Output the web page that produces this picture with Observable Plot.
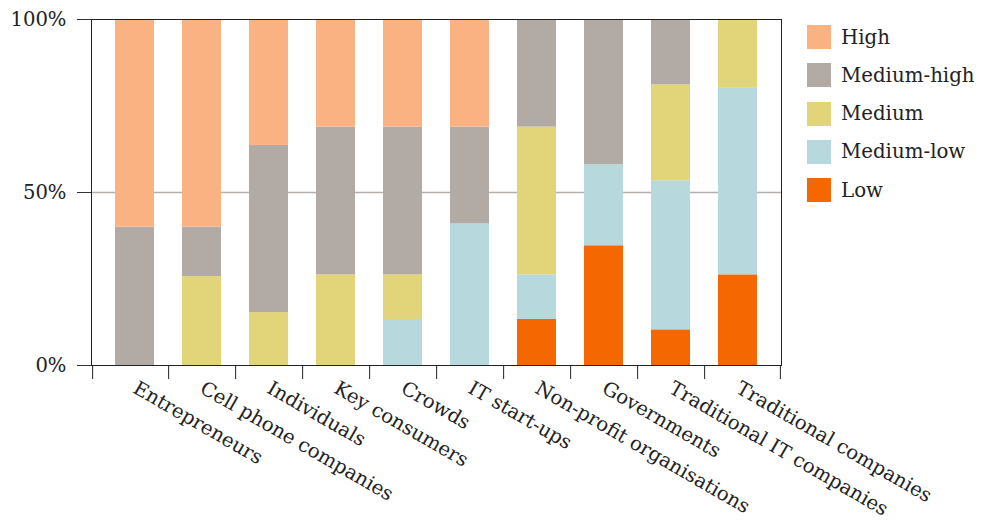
<!DOCTYPE html>
<html>
<head>
<meta charset="utf-8">
<script src="https://cdn.jsdelivr.net/npm/d3@7"></script>
<script src="https://cdn.jsdelivr.net/npm/@observablehq/plot@0.6"></script>
<style>
  html, body { margin: 0; padding: 0; background: #fff; }
  #wrap { position: relative; width: 992px; height: 522px; font-family: "DejaVu Serif", serif; color: #222; }
  #chart { position: absolute; left: 0; top: 0; }
  #legend { position: absolute; left: 807px; top: 25px; }
  .item { display: flex; align-items: center; height: 24px; margin-bottom: 14.25px; font-size: 19.8px; }
  .sw { width: 24px; height: 24px; margin-right: 10px; flex: none; }
</style>
</head>
<body>
<div id="wrap">
  <div id="chart"></div>
  <div id="legend"></div>
</div>
<script>
// Groups along the x axis
const categories = [
  "Entrepreneurs", "Cell phone companies", "Individuals", "Key consumers", "Crowds",
  "IT start-ups", "Non-profit organisations", "Governments",
  "Traditional IT companies", "Traditional companies"
];

// Levels, bottom of the stack first
const levels = ["Low", "Medium-low", "Medium", "Medium-high", "High"];
const levelColors = ["#f56700", "#b7d9de", "#e1d479", "#b2aaa5", "#fbb283"];

// Share of each level per group (%)
const low        = [0, 0, 0, 0, 0, 0, 13.3, 34.6, 10.3, 26.2];
const mediumLow  = [0, 0, 0, 0, 13.3, 40.9, 12.9, 23.4, 43.1, 54.1];
const medium     = [0, 25.7, 15.3, 26.2, 12.9, 0, 42.7, 0, 27.7, 19.7];
const mediumHigh = [40, 14.3, 48.3, 42.7, 42.7, 28.0, 31.1, 42.0, 18.9, 0];
const high       = [60, 60, 36.4, 31.1, 31.1, 31.1, 0, 0, 0, 0];

const yTicks = [0, 50, 100];

const series = [low, mediumLow, medium, mediumHigh, high];
const rows = [];
levels.forEach((level, j) => {
  categories.forEach((cat, i) => rows.push({category: cat, level, value: series[j][i]}));
});

// Layout: the legend sits in the right margin
const width = 992, height = 522;
const marginLeft = 91, marginRight = 211, marginTop = 19, marginBottom = 157;
const padInner = 0.42, padOuter = 0.34;
const step = (width - marginLeft - marginRight) / (categories.length - padInner + 2 * padOuter);
const edge = (padOuter + (1 - padInner) / 2) * step;
const fontSize = 19.6;

const chart = Plot.plot({
  width, height, marginLeft, marginRight, marginTop, marginBottom,
  style: {fontFamily: "DejaVu Serif, serif", fontSize: fontSize + "px", color: "#222", background: "#fff", overflow: "visible"},
  x: {domain: categories, paddingInner: padInner, paddingOuter: padOuter, label: null},
  y: {domain: [0, 100], label: null},
  color: {domain: levels, range: levelColors},
  marks: [
    Plot.ruleY([50], {stroke: "#b5aeaa", strokeWidth: 1.5}),
    Plot.barY(rows, {x: "category", y: "value", fill: "level", order: levels}),
    Plot.frame({stroke: "#222"}),
    Plot.axisY({ticks: yTicks, tickFormat: d => d + "%", tickSize: 14, tickPadding: 11, stroke: "#333", fontSize}),
    Plot.axisX({tickRotate: 30, tickSize: 0, tickPadding: 21, fontSize}),
    // tick marks between bars
    Plot.ruleX(categories.slice(0, -1), {x: d => d, y1: 0, y2: 0, insetBottom: -14, dx: step / 2, stroke: "#222"}),
    // tick marks at both ends of the axis
    Plot.ruleX(categories.slice(0, 1), {x: d => d, y1: 0, y2: 0, insetBottom: -14, dx: -edge, stroke: "#222"}),
    Plot.ruleX(categories.slice(-1), {x: d => d, y1: 0, y2: 0, insetBottom: -14, dx: edge, stroke: "#222"})
  ]
});
document.getElementById("chart").appendChild(chart);

// Legend, top of the stack first
const legend = document.getElementById("legend");
levels.slice().reverse().forEach(level => {
  const item = document.createElement("div");
  item.className = "item";
  const sw = document.createElement("span");
  sw.className = "sw";
  sw.style.background = levelColors[levels.indexOf(level)];
  const label = document.createElement("span");
  label.textContent = level;
  item.append(sw, label);
  legend.appendChild(item);
});
</script>
</body>
</html>
